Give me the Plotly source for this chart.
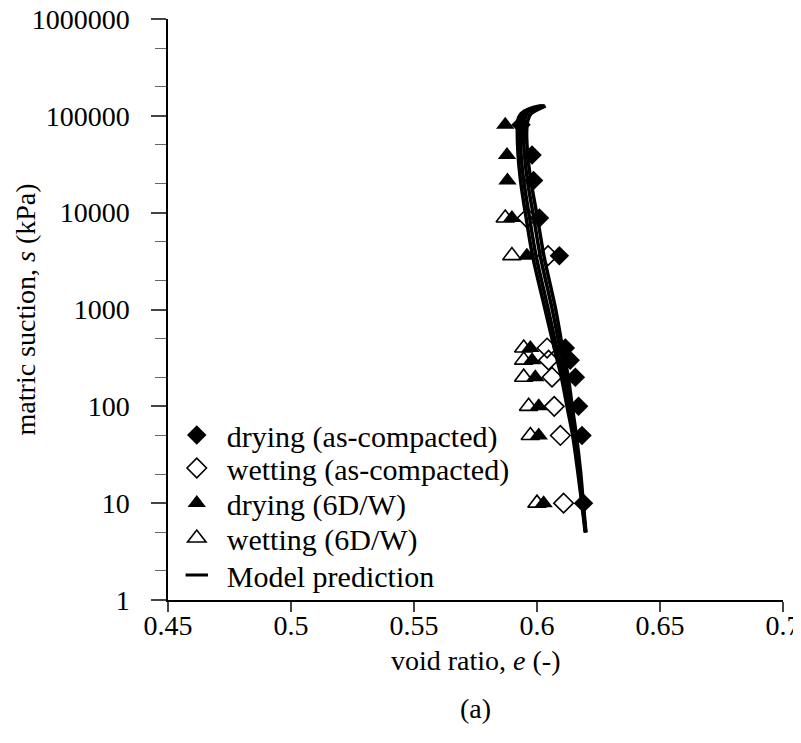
import plotly.graph_objects as go

# ---------------- data ----------------
s_drying = [10, 50, 100, 200, 300, 400, 3600, 8800, 21500, 39500, 80700]
e_drying_ac = [0.6189, 0.6183, 0.6169, 0.6156, 0.6135, 0.6115, 0.6091, 0.6010, 0.5986, 0.5980, 0.5935]
e_drying_6dw = [0.6027, 0.6007, 0.6007, 0.5993, 0.5980, 0.5973, 0.5959, 0.5898, 0.5880, 0.5878, 0.5871]

s_wetting = [8800, 3600, 400, 300, 200, 100, 50, 10]
e_wetting_ac = [0.5960, 0.6045, 0.6041, 0.6047, 0.6061, 0.6070, 0.6095, 0.6108]
e_wetting_6dw = [0.5871, 0.5898, 0.5946, 0.5946, 0.5946, 0.5966, 0.5973, 0.6000]

s_model = [5, 10, 20, 50, 100, 200, 400, 1000, 3600, 8800, 21500, 40000, 70000,
           90000, 105000, 118000, 127000]
e_model_1 = [0.6196, 0.6182, 0.6167, 0.6145, 0.6122, 0.6099, 0.6070, 0.6033, 0.5982, 0.5956,
             0.5933, 0.5923, 0.5920, 0.5922, 0.5935, 0.5968, 0.6018]
e_model_2 = [0.6197, 0.6184, 0.6170, 0.6150, 0.6128, 0.6107, 0.6080, 0.6046, 0.5996, 0.5970,
             0.5946, 0.5935, 0.5932, 0.5935, 0.5947, 0.5982, 0.6025]
e_model_3 = [0.6198, 0.6186, 0.6174, 0.6155, 0.6136, 0.6118, 0.6093, 0.6062, 0.6013, 0.5987,
             0.5961, 0.5949, 0.5945, 0.5949, 0.5960, 0.5995, 0.6030]
e_model_4 = [0.6199, 0.6188, 0.6178, 0.6160, 0.6143, 0.6127, 0.6104, 0.6076, 0.6028, 0.6002,
             0.5975, 0.5962, 0.5958, 0.5963, 0.5975, 0.6008, 0.6035]

x_ticks = [0.45, 0.5, 0.55, 0.6, 0.65, 0.7]
x_tick_labels = ["0.45", "0.5", "0.55", "0.6", "0.65", "0.7"]
y_ticks = [1, 10, 100, 1000, 10000, 100000, 1000000]
y_tick_labels = ["1", "10", "100", "1000", "10000", "100000", "1000000"]

FONT = "Liberation Serif"
BLACK = "#000000"
LEG_FONT = dict(family=FONT, size=30, color=BLACK)

fig = go.Figure()

fig.add_trace(go.Scatter(
    x=e_drying_ac, y=s_drying, mode="markers", name="drying (as-compacted)",
    marker=dict(symbol="diamond", size=15, color=BLACK, line=dict(width=0)),
    legend="legend"))
fig.add_trace(go.Scatter(
    x=e_wetting_ac, y=s_wetting, mode="markers", name="wetting (as-compacted)",
    marker=dict(symbol="diamond-open", size=15, color=BLACK, line=dict(width=1.6, color=BLACK)),
    legend="legend2"))
fig.add_trace(go.Scatter(
    x=e_wetting_6dw, y=s_wetting, mode="markers", name="wetting (6D/W)",
    marker=dict(symbol="triangle-up-open", size=16, color=BLACK, line=dict(width=1.6, color=BLACK)),
    legend="legend4"))
fig.add_trace(go.Scatter(
    x=e_drying_6dw, y=s_drying, mode="markers", name="drying (6D/W)",
    marker=dict(symbol="triangle-up", size=16, color=BLACK, line=dict(width=0)),
    legend="legend3"))

for i, e_curve in enumerate([e_model_1, e_model_2, e_model_3, e_model_4]):
    fig.add_trace(go.Scatter(
        x=e_curve, y=s_model, mode="lines", name="Model prediction",
        line=dict(color=BLACK, width=3.5, shape="spline", smoothing=1.0),
        legendgroup="model", showlegend=False))

# legend entry for the model curves, drawn as a short dash like the original
fig.add_trace(go.Scatter(
    x=[None], y=[None], mode="markers", name="Model prediction",
    marker=dict(symbol="line-ew", size=16, color=BLACK, line=dict(width=3, color=BLACK)),
    legendgroup="model", legend="legend5"))


def leg(yc):
    return dict(x=-0.002, y=yc, xanchor="left", yanchor="middle",
                bgcolor="rgba(0,0,0,0)", font=LEG_FONT, itemwidth=50)


# the page body adds an 8 px offset, so the figure is 8 px smaller and margins shifted
fig.update_layout(
    width=793, height=735,
    margin=dict(l=160, r=18, t=11, b=143),
    paper_bgcolor="white", plot_bgcolor="white",
    font=dict(family=FONT, size=28, color=BLACK),
    showlegend=True,
    legend=leg(0.2840),
    legend2=leg(0.2272),
    legend3=leg(0.1670),
    legend4=leg(0.1067),
    legend5=leg(0.0430),
)

fig.update_xaxes(
    range=[0.45, 0.7], showgrid=False, zeroline=False, automargin=False,
    showline=True, linecolor=BLACK, linewidth=1.5,
    ticks="outside", ticklen=10, tickwidth=1.5, tickcolor="#444444",
    tickvals=x_ticks, ticktext=x_tick_labels, ticklabelstandoff=-10,
    ticklabeloverflow="allow",
    tickfont=dict(family=FONT, size=28, color=BLACK),
)
fig.update_yaxes(
    type="log", range=[0, 6], showgrid=False, zeroline=False, automargin=False,
    showline=True, linecolor=BLACK, linewidth=1.5,
    ticks="outside", ticklen=15, tickwidth=1.5, tickcolor="#444444",
    tickvals=y_ticks, ticktext=y_tick_labels, ticklabelstandoff=16,
    ticklabeloverflow="allow",
    tickfont=dict(family=FONT, size=28, color=BLACK),
    minor=dict(ticks="outside", ticklen=11, tickwidth=1, tickcolor="#666666", showgrid=False),
)

fig.add_annotation(text="void ratio, <i>e</i> (-)", xref="paper", yref="paper",
                   x=0.5, y=-0.1033, xanchor="center", yanchor="middle", showarrow=False,
                   font=dict(family=FONT, size=28, color=BLACK))
fig.add_annotation(text="matric suction, <i>s</i> (kPa)", xref="paper", yref="paper",
                   x=-0.231, y=0.5, xanchor="center", yanchor="middle", showarrow=False,
                   textangle=-90, font=dict(family=FONT, size=28, color=BLACK))
fig.add_annotation(text="(a)", xref="paper", yref="paper", x=0.5, y=-0.186,
                   xanchor="center", yanchor="middle", showarrow=False,
                   font=dict(family=FONT, size=28, color=BLACK))

fig.write_html("out.html")
